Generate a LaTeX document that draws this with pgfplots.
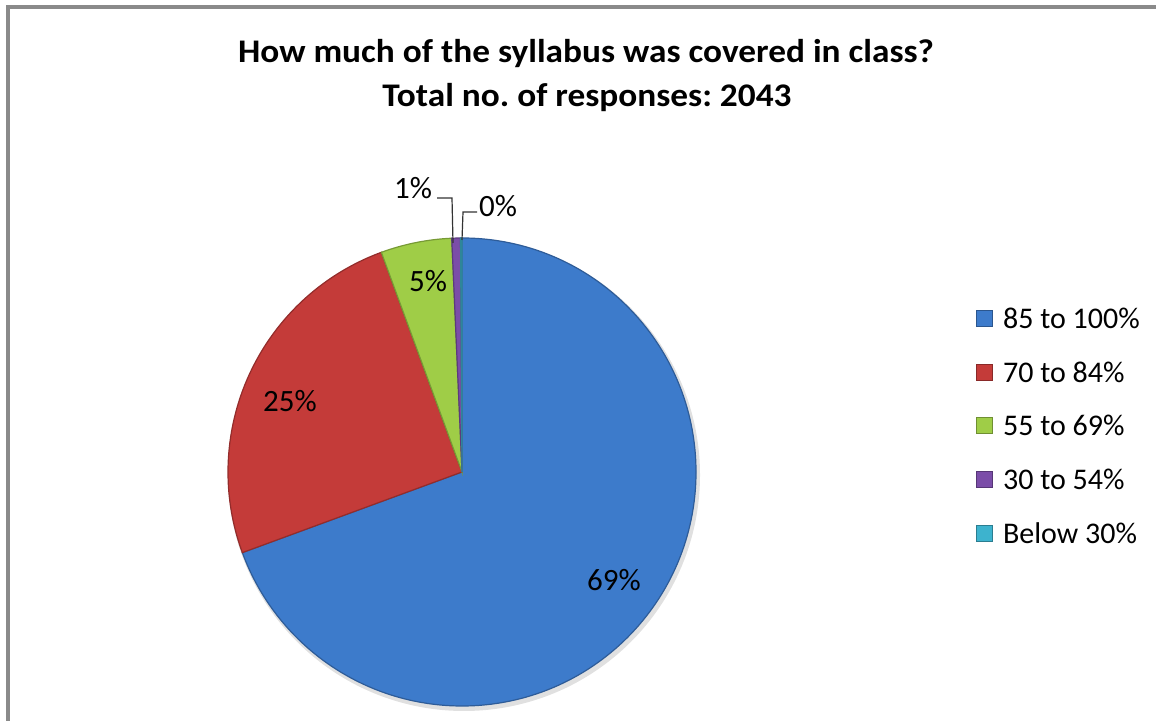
\documentclass[border=0pt]{standalone}
\usepackage{pgfplots}
\pgfplotsset{compat=1.18}
\usepackage{fontspec}
\setmainfont{Carlito}
\frenchspacing

\definecolor{pieblue}{HTML}{3D7BCB}
\definecolor{piered}{HTML}{C43B39}
\definecolor{piegreen}{HTML}{9FCD47}
\definecolor{piepurple}{HTML}{7B4DA8}
\definecolor{piecyan}{HTML}{3DB3CE}
\definecolor{framegray}{HTML}{8A8A8A}

\begin{document}
\begin{tikzpicture}
\begin{axis}[
    width=578pt,
    height=360.5pt,
    scale only axis,
    xmin=0, xmax=1156,
    ymin=0, ymax=721,
    hide axis,
    clip=false
]
% chart frame (left and top edges visible)
\draw[framegray, line width=1.6pt] (axis cs:8,0) -- (axis cs:8,714) -- (axis cs:1156,714);

% title
\node[font=\fontsize{16.5}{20}\selectfont\bfseries, xscale=1.07, transform shape] at (axis cs:586,667) {How much of the syllabus was covered in class?};
\node[font=\fontsize{16.5}{20}\selectfont\bfseries, xscale=1.07, transform shape] at (axis cs:587,623) {Total no. of responses: 2043};

% soft shadow under the pie
\fill[black!12] (axis cs:464,246) circle[radius=118pt];

% pie slices, clockwise from the top
\def\cumul{0}
\foreach \v/\col in {69.4/pieblue, 25.0/piered, 4.9/piegreen, 0.6/piepurple, 0.1/piecyan}{
  \pgfmathsetmacro\sa{90-3.6*\cumul}
  \pgfmathsetmacro\sb{90-3.6*(\cumul+\v)}
  \edef\tmp{\noexpand\fill[\col, draw=\col!75!black, line width=0.6pt]
    (axis cs:462,249) -- ++(\sa:117pt) arc[start angle=\sa, end angle=\sb, radius=117pt] -- cycle;}
  \tmp
  \pgfmathsetmacro\cend{\cumul+\v}
  \global\let\cumul\cend
}

% data labels
\begin{scope}[font=\fontsize{15.5}{18}\selectfont]
\node at (axis cs:614,141) {69\%};
\node at (axis cs:290,320) {25\%};
\node at (axis cs:428,440) {5\%};
\node at (axis cs:413,533) {1\%};
\node at (axis cs:498,515) {0\%};
\end{scope}
\draw[black!80, line width=0.6pt] (axis cs:437,523) -- (axis cs:452,523) -- (axis cs:453,478);
\draw[black!80, line width=0.6pt] (axis cs:477,509) -- (axis cs:463,509) -- (axis cs:462,481);

% legend
\begin{scope}[font=\fontsize{15}{18}\selectfont]
\fill[pieblue, draw=pieblue!70!black] (axis cs:976,395) rectangle (axis cs:992,411);
\node[anchor=west] at (axis cs:996,403) {85 to 100\%};
\fill[piered, draw=piered!70!black] (axis cs:976,341) rectangle (axis cs:992,357);
\node[anchor=west] at (axis cs:996,349) {70 to 84\%};
\fill[piegreen, draw=piegreen!70!black] (axis cs:976,288) rectangle (axis cs:992,304);
\node[anchor=west] at (axis cs:996,296) {55 to 69\%};
\fill[piepurple, draw=piepurple!70!black] (axis cs:976,234) rectangle (axis cs:992,250);
\node[anchor=west] at (axis cs:996,242) {30 to 54\%};
\fill[piecyan, draw=piecyan!70!black] (axis cs:976,180) rectangle (axis cs:992,196);
\node[anchor=west] at (axis cs:996,188) {Below 30\%};
\end{scope}
\end{axis}
\pgfresetboundingbox
\path[use as bounding box] (0,0) rectangle (578pt,360.5pt);
\end{tikzpicture}
\end{document}
